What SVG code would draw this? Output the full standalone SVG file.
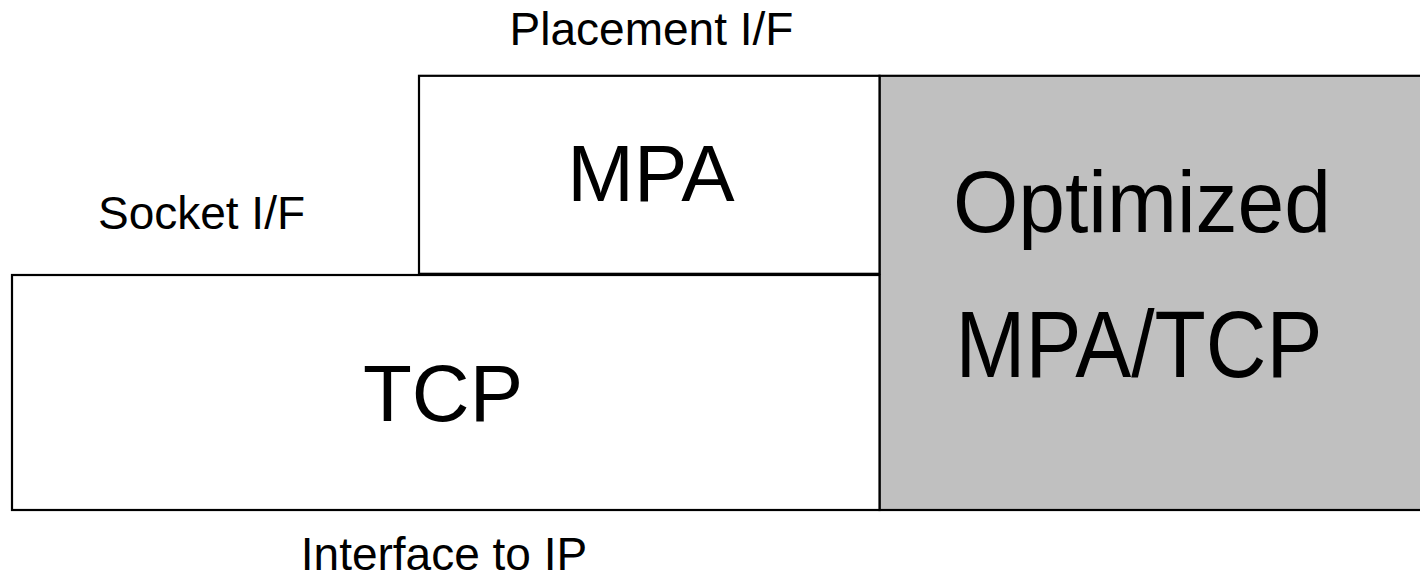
<svg xmlns="http://www.w3.org/2000/svg" width="1420" height="573" viewBox="0 0 1420 573">
<style>
.box{fill:#fff;stroke:#000;stroke-width:2.2}
.gray{fill:#c0c0c0;stroke:#000;stroke-width:2.2}
text{font-family:"Liberation Sans",Arial,sans-serif;fill:#000;text-anchor:middle}
.s{font-size:46px}
.b{font-size:80px}
.o{font-size:84px}
</style>
<rect width="1420" height="573" fill="#fff"/>
<g id="optimized">
<rect class="gray" x="879.5" y="75.8" width="545" height="434.2"/>
<text class="o" transform="translate(1142,232) scale(1,1.03)">Optimized</text>
<text class="o" transform="translate(1139,377) scale(1,1.12)">MPA/TCP</text>
</g>
<g id="mpa">
<rect class="box" x="419" y="75.8" width="460.5" height="198"/>
<text class="b" x="651" y="201">MPA</text>
</g>
<g id="tcp">
<rect class="box" x="12" y="275" width="867.5" height="235"/>
<text class="b" x="443" y="421">TCP</text>
</g>
<g id="labels">
<text class="s" x="651.5" y="45">Placement I/F</text>
<text class="s" x="201.5" y="229">Socket I/F</text>
<text class="s" x="444" y="570">Interface to IP</text>
</g>
<g id="connectors"></g>
</svg>
